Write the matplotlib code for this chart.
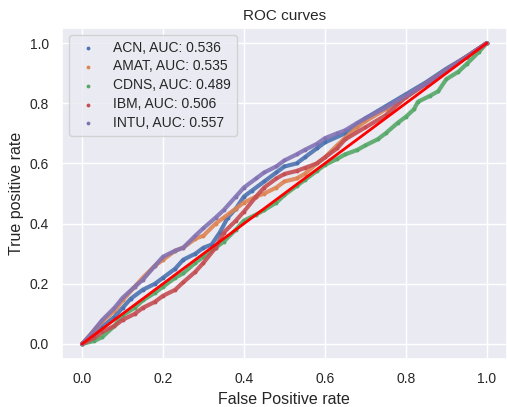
import matplotlib
matplotlib.use("Agg")
import matplotlib.pyplot as plt
import seaborn as sns

sns.set_theme(style="darkgrid")
plt.rcParams['font.family'] = ['Liberation Sans', 'DejaVu Sans']

# ROC points
acn_fpr = [0, 0.03, 0.05, 0.08, 0.10, 0.12, 0.15, 0.18, 0.20, 0.23, 0.25, 0.28, 0.30, 0.32, 0.34, 0.36, 0.38, 0.40,
           0.42, 0.45, 0.48, 0.50, 0.53, 0.55, 0.58, 0.60, 0.65, 0.70, 0.75, 0.80, 0.85, 0.90, 0.95, 1.0]
acn_tpr = [0, 0.03, 0.057, 0.09, 0.12, 0.15, 0.18, 0.20, 0.22, 0.25, 0.28, 0.30, 0.32, 0.33, 0.37, 0.42, 0.45, 0.49,
           0.51, 0.54, 0.57, 0.59, 0.60, 0.62, 0.65, 0.67, 0.70, 0.75, 0.79, 0.83, 0.87, 0.915, 0.955, 1.0]

amat_fpr = [0, 0.02, 0.05, 0.08, 0.10, 0.13, 0.15, 0.18, 0.20, 0.23, 0.25, 0.28, 0.30, 0.33, 0.35, 0.38, 0.40, 0.43,
            0.45, 0.48, 0.50, 0.53, 0.55, 0.58, 0.60, 0.63, 0.65, 0.68, 0.70, 0.75, 0.80, 0.85, 0.90, 0.95, 1.0]
amat_tpr = [0, 0.03, 0.075, 0.11, 0.145, 0.19, 0.22, 0.26, 0.28, 0.31, 0.32, 0.35, 0.36, 0.40, 0.42, 0.45, 0.47, 0.49,
            0.50, 0.52, 0.54, 0.55, 0.565, 0.60, 0.62, 0.66, 0.685, 0.72, 0.74, 0.78, 0.82, 0.865, 0.91, 0.955, 1.0]

cdns_fpr = [0, 0.03, 0.05, 0.08, 0.10, 0.13, 0.15, 0.18, 0.20, 0.23, 0.25, 0.28, 0.30, 0.33, 0.35, 0.38, 0.40, 0.43,
            0.45, 0.48, 0.50, 0.53, 0.55, 0.58, 0.60, 0.63, 0.65, 0.68, 0.70, 0.73, 0.75, 0.78, 0.80, 0.82, 0.83,
            0.86, 0.88, 0.90, 0.93, 0.95, 0.98, 1.0]
cdns_tpr = [0, 0.01, 0.023, 0.06, 0.095, 0.12, 0.145, 0.17, 0.19, 0.22, 0.235, 0.27, 0.29, 0.32, 0.34, 0.38, 0.41, 0.43,
            0.445, 0.47, 0.495, 0.525, 0.545, 0.575, 0.595, 0.615, 0.63, 0.645, 0.66, 0.68, 0.70, 0.735, 0.755, 0.78,
            0.805, 0.825, 0.84, 0.88, 0.905, 0.93, 0.97, 1.0]

ibm_fpr = [0, 0.03, 0.05, 0.08, 0.10, 0.13, 0.15, 0.18, 0.20, 0.23, 0.25, 0.28, 0.30, 0.33, 0.35, 0.38, 0.40, 0.43,
           0.45, 0.48, 0.50, 0.53, 0.55, 0.58, 0.60, 0.63, 0.65, 0.70, 0.75, 0.80, 0.85, 0.90, 0.95, 1.0]
ibm_tpr = [0, 0.02, 0.04, 0.06, 0.08, 0.10, 0.12, 0.14, 0.16, 0.18, 0.205, 0.24, 0.27, 0.32, 0.37, 0.41, 0.44, 0.49,
           0.52, 0.55, 0.565, 0.575, 0.585, 0.60, 0.62, 0.65, 0.68, 0.72, 0.76, 0.82, 0.865, 0.91, 0.955, 1.0]

intu_fpr = [0, 0.02, 0.05, 0.08, 0.10, 0.13, 0.15, 0.18, 0.20, 0.23, 0.25, 0.28, 0.30, 0.33, 0.35, 0.38, 0.40, 0.43,
            0.45, 0.48, 0.50, 0.53, 0.55, 0.58, 0.60, 0.63, 0.65, 0.68, 0.70, 0.75, 0.80, 0.85, 0.90, 0.95, 1.0]
intu_tpr = [0, 0.03, 0.08, 0.12, 0.153, 0.19, 0.213, 0.26, 0.29, 0.31, 0.32, 0.36, 0.385, 0.42, 0.445, 0.49, 0.52, 0.55,
            0.57, 0.59, 0.61, 0.63, 0.645, 0.665, 0.684, 0.70, 0.71, 0.735, 0.75, 0.785, 0.825, 0.865, 0.91, 0.955, 1.0]

names = ["ACN", "AMAT", "CDNS", "IBM", "INTU"]
aucs = [0.536, 0.535, 0.489, 0.506, 0.557]
curves = [(acn_fpr, acn_tpr), (amat_fpr, amat_tpr), (cdns_fpr, cdns_tpr), (ibm_fpr, ibm_tpr), (intu_fpr, intu_tpr)]
colors = sns.color_palette("deep")

fig = plt.figure(figsize=(5.07, 4.07), dpi=100)
ax = fig.add_axes([0.122, 0.118, 0.878, 0.813])

for (fpr, tpr), name, auc, c in zip(curves, names, aucs, colors):
    ax.plot(fpr, tpr, color=c, lw=3, alpha=0.9, solid_joinstyle='round')
    ax.scatter(fpr, tpr, s=3, color=c, label="%s, AUC: %.3f" % (name, auc))

ax.plot([0, 1], [0, 1], color='red', lw=2)

ax.set_title("ROC curves", fontsize=11)
ax.set_xlabel("False Positive rate", fontsize=11.5)
ax.set_ylabel("True positive rate", fontsize=11.5)
ax.tick_params(labelsize=10)
ax.legend(loc='upper left', fontsize=10, markerscale=1.0, labelspacing=0.35)

fig.savefig("out.png", dpi=100)
